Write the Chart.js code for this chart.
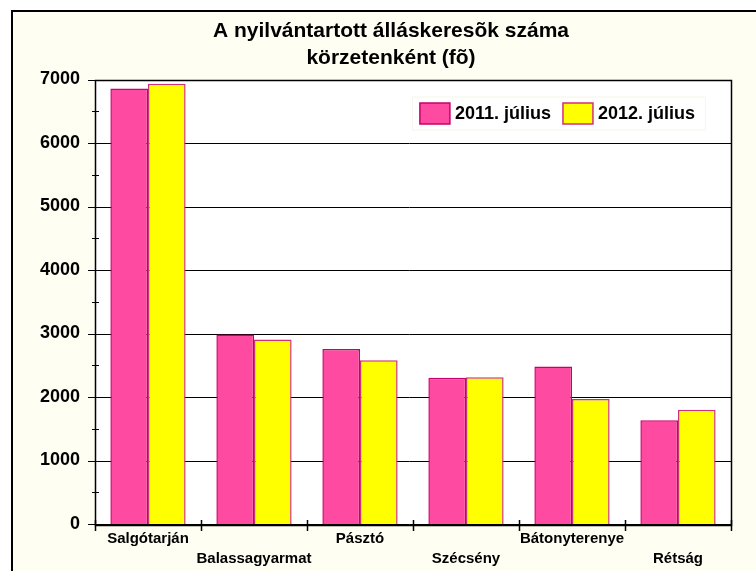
<!DOCTYPE html>
<html>
<head>
<meta charset="utf-8">
<script src="https://cdn.jsdelivr.net/npm/chart.js@4.4.1/dist/chart.umd.min.js"></script>
<style>
  html, body { margin: 0; padding: 0; background: #fff; }
  body { width: 756px; height: 571px; position: relative; overflow: hidden; }
  #frame {
    position: absolute; left: 11px; top: 10px; width: 760px; height: 580px;
    background: #FEFEF2; border-left: 2px solid #000; border-top: 2px solid #000;
    box-sizing: border-box;
  }
  #chartBox { position: absolute; left: 0; top: 0; width: 756px; height: 571px; }
</style>
</head>
<body>
<div id="frame"></div>
<div id="chartBox"><canvas id="jobChart"></canvas></div>
<script>
// chart data
const titleLines = ["A nyilvántartott álláskeresõk száma", "körzetenként (fõ)"];
const districts = ["Salgótarján", "Balassagyarmat", "Pásztó", "Szécsény", "Bátonyterenye", "Rétság"];
const seriesNames = ["2011. július", "2012. július"];
const july2011 = [6860, 2985, 2755, 2305, 2482, 1632];
const july2012 = [6935, 2905, 2577, 2312, 1968, 1800];
const yTicks = [0, 1000, 2000, 3000, 4000, 5000, 6000, 7000];

const FONT = "'Liberation Sans', Arial, sans-serif";

// white plot area + frame, minor ticks, category tick marks, title, legend
const plotDecor = {
  id: "plotDecor",
  beforeDatasetsDraw(chart) {
    const { ctx, chartArea: a } = chart;
    ctx.save();
    ctx.fillStyle = "#fff";
    ctx.fillRect(a.left, a.top, a.right - a.left, a.bottom - a.top);
    // gridlines on top of the white fill
    ctx.strokeStyle = "#000";
    ctx.lineWidth = 1;
    const y = chart.scales.y;
    yTicks.forEach(v => {
      const py = Math.round(y.getPixelForValue(v)) + 0.5;
      ctx.beginPath();
      ctx.moveTo(a.left - 7, py);
      ctx.lineTo(a.right, py);
      ctx.stroke();
    });
    // minor ticks at the half steps
    for (let i = 0; i < yTicks.length - 1; i++) {
      const py = Math.round(y.getPixelForValue((yTicks[i] + yTicks[i + 1]) / 2)) + 0.5;
      ctx.beginPath();
      ctx.moveTo(a.left - 3, py);
      ctx.lineTo(a.left + 4, py);
      ctx.stroke();
    }
    ctx.restore();
  },
  afterDatasetsDraw(chart) {
    const { ctx, chartArea: a } = chart;
    const x = chart.scales.x;
    ctx.save();
    ctx.strokeStyle = "#000";
    ctx.lineWidth = 1.5;
    ctx.strokeRect(Math.round(a.left) + 0.5, Math.round(a.top) + 0.5,
      Math.round(a.right - a.left), Math.round(a.bottom - a.top));
    // tick marks between categories
    for (let i = 0; i <= districts.length; i++) {
      let px;
      if (i === 0) px = a.left;
      else if (i === districts.length) px = a.right;
      else px = (x.getPixelForValue(i - 1) + x.getPixelForValue(i)) / 2;
      px = Math.round(px) + 0.5;
      ctx.beginPath();
      ctx.moveTo(px, a.bottom - 4);
      ctx.lineTo(px, a.bottom + 7);
      ctx.stroke();
    }
    ctx.restore();
  },
  afterDraw(chart) {
    const { ctx, chartArea: a } = chart;
    ctx.save();

    // title, centred a little left of the plot centre like the original
    ctx.font = "bold 21px " + FONT;
    ctx.fillStyle = "#000";
    ctx.textAlign = "center";
    ctx.textBaseline = "middle";
    titleLines.forEach((line, i) => ctx.fillText(line, 391, 31 + i * 27));

    // legend inside the plot area, top right
    const sets = chart.data.datasets;
    ctx.font = "bold 18px " + FONT;
    ctx.textAlign = "left";
    const boxW = 30, boxH = 21, gap = 5, itemGap = 12;
    const widths = sets.map(ds => boxW + gap + ctx.measureText(ds.label).width);
    const total = widths.reduce((s, w) => s + w, 0) + itemGap * (sets.length - 1);
    let lx = a.right - 36 - total;
    const cy = a.top + 34;
    ctx.fillStyle = "#fff";
    ctx.strokeStyle = "#f6f6ec";
    ctx.lineWidth = 1;
    ctx.fillRect(lx - 8, cy - 17, total + 18, 33);
    ctx.strokeRect(lx - 8 + 0.5, cy - 17 + 0.5, total + 18, 33);
    sets.forEach((ds, i) => {
      ctx.fillStyle = ds.backgroundColor;
      ctx.fillRect(lx, cy - boxH / 2, boxW, boxH);
      ctx.strokeStyle = ds.borderColor;
      ctx.lineWidth = 1.5;
      ctx.strokeRect(lx, cy - boxH / 2, boxW, boxH);
      ctx.fillStyle = "#000";
      ctx.fillText(ds.label, lx + boxW + gap, cy + 1);
      lx += widths[i] + itemGap;
    });
    ctx.restore();
  }
};

function initChart() {
  const ctx = document.getElementById("jobChart");
  new Chart(ctx, {
    type: "bar",
    data: {
      labels: districts,
      datasets: [
        {
          label: seriesNames[0],
          data: july2011,
          backgroundColor: "#FF4AA2",
          borderColor: "#C8006A",
          borderWidth: 1.5
        },
        {
          label: seriesNames[1],
          data: july2012,
          backgroundColor: "#FFFF00",
          borderColor: "#D0307A",
          borderWidth: 1.5
        }
      ]
    },
    options: {
      responsive: false,
      animation: false,
      devicePixelRatio: 1,
      layout: { padding: { left: 11, right: 25, top: 79.5, bottom: 0 } },
      datasets: {
        bar: { categoryPercentage: 0.71, barPercentage: 1.0 }
      },
      scales: {
        x: {
          grid: { display: false, drawTicks: false },
          border: { display: false },
          ticks: {
            color: "#000",
            font: { family: FONT, size: 15, weight: "bold", lineHeight: 1.34 },
            padding: 5,
            autoSkip: false,
            maxRotation: 0,
            callback: function (value, index) {
              const name = this.getLabelForValue(value);
              // every second label sits on a second row
              return index % 2 ? ["", name] : name;
            }
          },
          afterFit(scale) { scale.height = 47; }
        },
        y: {
          min: 0,
          max: 7000,
          grid: { display: false, drawTicks: false },
          border: { display: false },
          ticks: {
            stepSize: 1000,
            color: "#000",
            padding: 15,
            font: { family: FONT, size: 18, weight: "bold" },
            callback: value => String(value) // no thousands separator
          },
          afterFit(scale) { scale.width = 84; }
        }
      },
      plugins: {
        legend: { display: false },
        tooltip: { enabled: false },
        title: { display: false }
      }
    },
    plugins: [plotDecor]
  });
}

document.addEventListener("DOMContentLoaded", () => {
  const c = document.getElementById("jobChart");
  c.width = 756;
  c.height = 571;
  initChart();
});
</script>
</body>
</html>
